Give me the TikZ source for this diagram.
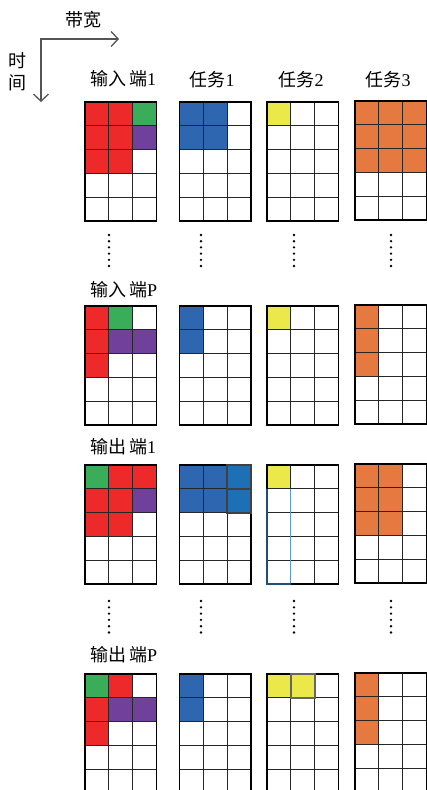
\documentclass[tikz,border=0pt]{standalone}
\usepackage{fontspec}
\setmainfont{Liberation Serif}
\newfontfamily\cjk{Noto Sans CJK SC}
\usetikzlibrary{arrows.meta}
\definecolor{cellred}{RGB}{237, 41, 41}
\definecolor{cellgreen}{RGB}{58, 173, 91}
\definecolor{cellpurple}{RGB}{112, 64, 154}
\definecolor{cellblue}{RGB}{46, 102, 176}
\definecolor{cellsky}{RGB}{30, 112, 182}
\definecolor{cellyellow}{RGB}{235, 232, 74}
\definecolor{cellorange}{RGB}{229, 121, 63}
\definecolor{axisgray}{RGB}{85, 85, 85}
\definecolor{lineblue}{RGB}{91, 155, 213}
\definecolor{darkblue}{RGB}{31, 78, 121}

\newcommand{\cellw}{23.8}
% one 3x5 slot grid: #1,#2 top left corner, #3 coloured cells col/row/colour
\newcommand{\portgrid}[3]{%
  \foreach \c/\r/\col in {#3}
    \fill[\col] ({#1+(\c-1)*\cellw},{#2+(\r-1)*\cellw}) rectangle ++(\cellw,\cellw);
  \foreach \i in {1,2}
    \draw[innerline] ({#1+\i*\cellw},#2) -- ++(0,5*\cellw);
  \foreach \j in {1,...,4}
    \draw[innerline] (#1,{#2+\j*\cellw}) -- ++(3*\cellw,0);
  \draw[outerline] (#1,#2) rectangle ++(3*\cellw,5*\cellw);
}

\begin{document}
\begin{tikzpicture}[
    x=1pt, y=-1pt,
    label/.style={inner sep=0pt, font=\fontsize{18}{20}\selectfont},
    portlabel/.style={label, anchor=west},
    innerline/.style={black!85, line width=1.1pt},
    outerline/.style={black, line width=1.6pt},
    hlbox/.style={draw=black!75, line width=2.2pt},
    axis/.style={axisgray, line width=1.3pt, {Straight Barb[length=7pt,width=15pt]}-{Straight Barb[length=7pt,width=15pt]}}
]
\useasboundingbox (0,0) rectangle (426,790);

% axes
\coordinate (origin) at (41,39);
\coordinate (bwtip) at (119,39);
\coordinate (timetip) at (41,102);
\draw[axis] (bwtip) -- (origin) -- (timetip);
\node[label] (bw) at (83,20) {\cjk 带宽};
\node[label] (time1) at (18,61) {\cjk 时};
\node[label] (time2) at (18,83) {\cjk 间};

% column titles
\node[portlabel] (in1) at (90,79) {{\cjk 输入}\,{\cjk 端}1};
\node[label] (task1) at (212,80) {{\cjk 任务}1};
\node[label] (task2) at (301,80) {{\cjk 任务}2};
\node[label] (task3) at (388,80) {{\cjk 任务}3};

% input port 1
\portgrid{85}{102}{1/1/cellred,2/1/cellred,3/1/cellgreen,1/2/cellred,2/2/cellred,3/2/cellpurple,1/3/cellred,2/3/cellred}
\portgrid{179.5}{102}{1/1/cellblue,2/1/cellblue,1/2/cellblue,2/2/cellblue}
\portgrid{267}{102}{1/1/cellyellow}
\portgrid{355}{101}{1/1/cellorange,2/1/cellorange,3/1/cellorange,1/2/cellorange,2/2/cellorange,3/2/cellorange,1/3/cellorange,2/3/cellorange,3/3/cellorange}

% dots
\foreach \x in {109,201,294,391}
  \foreach \k in {0,...,5} {
    \fill (\x,{235+\k*6.2}) circle (1.3);
    \fill (\x,{601+\k*6.3}) circle (1.3);
  }

% input port P
\node[portlabel] (inP) at (90,290) {{\cjk 输入}\,{\cjk 端}P};
\portgrid{85}{306}{1/1/cellred,2/1/cellgreen,1/2/cellred,2/2/cellpurple,3/2/cellpurple,1/3/cellred}
\portgrid{179.5}{306}{1/1/cellblue,1/2/cellblue}
\portgrid{267}{306}{1/1/cellyellow}
\portgrid{355}{305}{1/1/cellorange,1/2/cellorange,1/3/cellorange}

% output port 1
\node[portlabel] (out1) at (90,447) {{\cjk 输出}\,{\cjk 端}1};
\portgrid{85}{465}{1/1/cellgreen,2/1/cellred,3/1/cellred,1/2/cellred,2/2/cellred,3/2/cellpurple,1/3/cellred,2/3/cellred}
\portgrid{179.5}{465}{1/1/cellblue,2/1/cellblue,3/1/cellsky,1/2/cellblue,2/2/cellblue,3/2/cellsky}
\draw[hlbox] ({179.5+2*\cellw},465) rectangle ++(\cellw,\cellw);
\draw[hlbox] ({179.5+2*\cellw},{465+\cellw}) rectangle ++(\cellw,\cellw);
\portgrid{267}{465}{1/1/cellyellow}
\draw[lineblue, line width=1.3pt] ({267+\cellw},{465+\cellw}) -- ++(0,4*\cellw);
\draw[darkblue, line width=1.6pt] (267,{465+\cellw}) -- (267,{465+5*\cellw}) -- ++(\cellw,0);
\portgrid{355}{464}{1/1/cellorange,2/1/cellorange,1/2/cellorange,2/2/cellorange,1/3/cellorange,2/3/cellorange}

% output port P
\node[portlabel] (outP) at (90,655) {{\cjk 输出}\,{\cjk 端}P};
\portgrid{85}{674}{1/1/cellgreen,2/1/cellred,1/2/cellred,2/2/cellpurple,3/2/cellpurple,1/3/cellred}
\portgrid{179.5}{674}{1/1/cellblue,1/2/cellblue}
\portgrid{267}{674}{1/1/cellyellow,2/1/cellyellow}
\draw[hlbox, draw=black!60] ({267+\cellw},674) rectangle ++(\cellw,\cellw);
\portgrid{355}{673}{1/1/cellorange,1/2/cellorange,1/3/cellorange}
\end{tikzpicture}
\end{document}
